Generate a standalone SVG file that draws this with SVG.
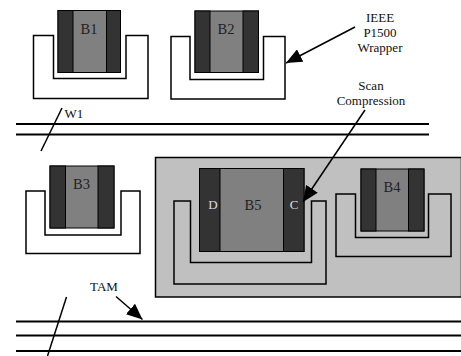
<svg xmlns="http://www.w3.org/2000/svg" width="461" height="356" viewBox="0 0 461 356">
<style>
.u{fill:#fff;stroke:#000;stroke-width:1.5}
.ug{fill:none;stroke:#000;stroke-width:1.5}
.bar{fill:#333;stroke:#000;stroke-width:1}
.mid{fill:#808080;stroke:#000;stroke-width:1}
text{font-family:'Liberation Serif','Times New Roman','DejaVu Serif',serif}
.t{font-size:14.5px;fill:#222;text-anchor:middle}
.s{font-size:13px;fill:#111;text-anchor:middle}
.bl{font-size:13px;fill:#ddd;text-anchor:middle}
.ln{stroke:#000;stroke-width:2;fill:none}
.ar{stroke:#000;stroke-width:1.5;fill:none}
</style>
<defs>
<marker id="ahb" markerWidth="16" markerHeight="14" refX="16" refY="7" orient="auto" markerUnits="userSpaceOnUse" viewBox="0 0 16 14">
<path d="M0,0 L16,7 L0,14 z" fill="#000"/>
</marker>
</defs>
<rect id="gray-box" x="155.5" y="157.5" width="306" height="139.5" fill="#c0c0c0" stroke="#000" stroke-width="1.5"/>
<g id="B1">
<path class="u" d="M33.5,35.5 H53.5 V78.5 H126 V35.5 H148 V98.5 H33.5 Z"/>
<rect class="mid" x="58" y="10.5" width="62.5" height="62"/>
<rect class="bar" x="58" y="10.5" width="15" height="62"/>
<rect class="bar" x="106.5" y="10.5" width="14" height="62"/>
<text class="t" x="89" y="34" font-family="Liberation Serif, serif">B1</text>
</g>
<g id="B2">
<path class="u" d="M171,36.5 H190 V79.5 H263.5 V36.5 H285 V99 H171 Z"/>
<rect class="mid" x="195" y="11" width="63.5" height="61.5"/>
<rect class="bar" x="195" y="11" width="15" height="61.5"/>
<rect class="bar" x="243" y="11" width="15.5" height="61.5"/>
<text class="t" x="226" y="34" font-family="Liberation Serif, serif">B2</text>
</g>
<g id="B3">
<path class="u" d="M26,191 H45 V235 H121 V191 H140 V253.5 H26 Z"/>
<rect class="mid" x="50" y="166" width="64" height="62"/>
<rect class="bar" x="50" y="166" width="15.5" height="62"/>
<rect class="bar" x="98" y="166" width="16" height="62"/>
<text class="t" x="81.5" y="189" font-family="Liberation Serif, serif">B3</text>
</g>
<g id="B5">
<path class="ug" d="M174,201 H190.5 V262.5 H311.5 V201 H326 V284 H174 Z"/>
<rect class="mid" x="199.5" y="168.5" width="104.5" height="83"/>
<rect class="bar" x="199.5" y="168.5" width="20.5" height="83"/>
<rect class="bar" x="283.5" y="168.5" width="20.5" height="83"/>
<text class="t" x="253" y="210" font-family="Liberation Serif, serif">B5</text>
<text class="bl" x="213" y="209" font-family="Liberation Serif, serif">D</text>
<text class="bl" x="294" y="209" font-family="Liberation Serif, serif">C</text>
</g>
<g id="B4">
<path class="ug" d="M336,194 H355.5 V237.5 H428.5 V194 H451 V256.5 H336 Z"/>
<rect class="mid" x="361" y="169" width="63" height="62"/>
<rect class="bar" x="361" y="169" width="15" height="62"/>
<rect class="bar" x="408.5" y="169" width="15.5" height="62"/>
<text class="t" x="392" y="192" font-family="Liberation Serif, serif">B4</text>
</g>
<g id="labels" font-family="Liberation Serif, serif">
<text class="s" x="380" y="21.5">IEEE</text>
<text class="s" x="380" y="36.5">P1500</text>
<text class="s" x="380" y="51.5">Wrapper</text>
<text class="s" x="371" y="89.5">Scan</text>
<text class="s" x="371" y="104.5">Compression</text>
<text class="s" x="104" y="291">TAM</text>
<text class="s" x="64.5" y="118" style="text-anchor:start">W1</text>
</g>
<g id="connectors">
<line class="ln" x1="16" y1="124" x2="429" y2="124"/>
<line class="ln" x1="16" y1="134.5" x2="429" y2="134.5"/>
<line class="ar" x1="62" y1="108" x2="41" y2="151"/>
<line class="ln" x1="16" y1="321.5" x2="461" y2="321.5"/>
<line class="ln" x1="16" y1="335.5" x2="461" y2="335.5"/>
<line class="ln" x1="16" y1="351" x2="461" y2="351"/>
<line class="ar" x1="66.5" y1="297" x2="47.5" y2="356"/>
<line class="ar" x1="355" y1="27" x2="286" y2="63" marker-end="url(#ahb)"/>
<line class="ar" x1="365" y1="110" x2="303" y2="202" marker-end="url(#ahb)"/>
<line class="ar" x1="116" y1="296.5" x2="142.5" y2="319.5" marker-end="url(#ahb)"/>
</g>
</svg>
